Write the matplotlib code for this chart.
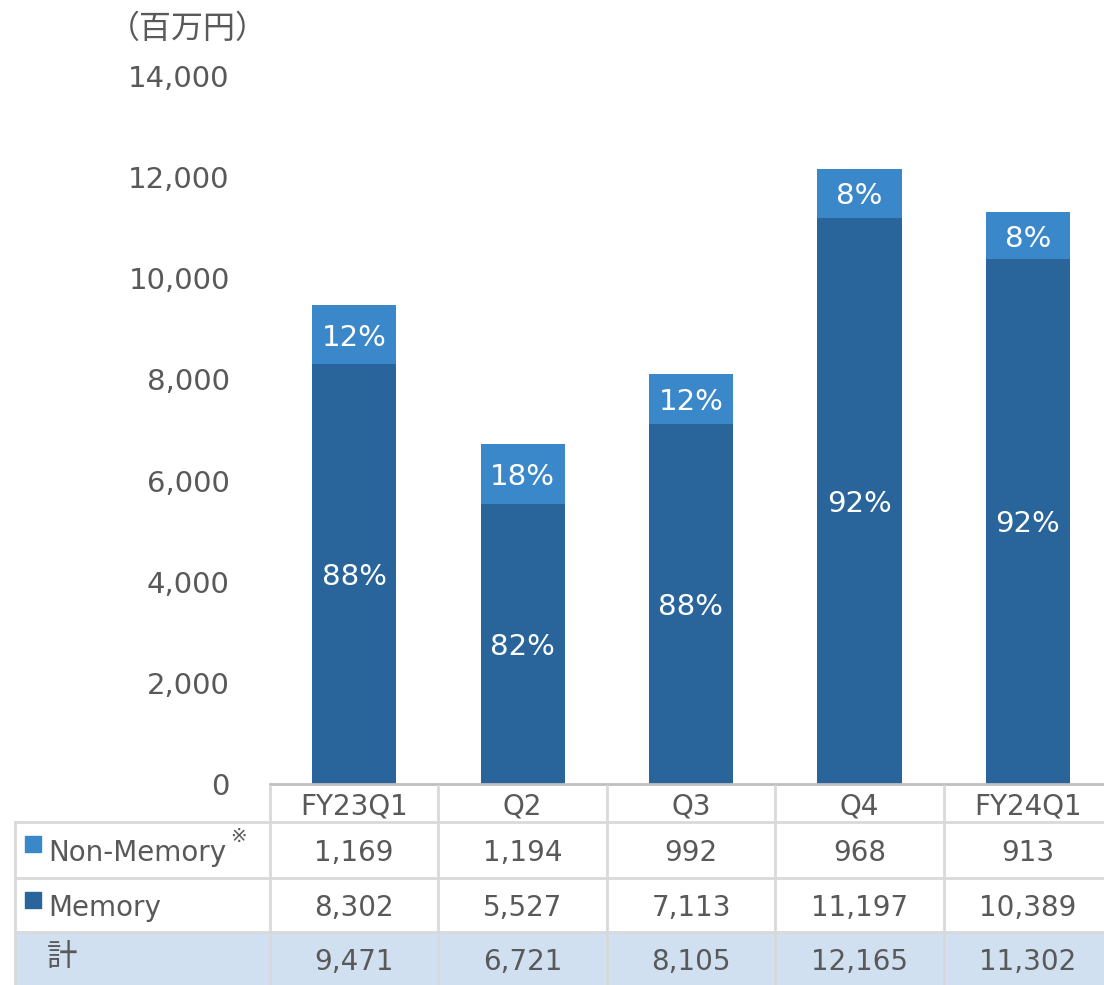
import matplotlib
matplotlib.use('Agg')
import matplotlib.pyplot as plt
import matplotlib.transforms as mtransforms
from matplotlib.lines import Line2D
from matplotlib.patches import Rectangle

plt.rcParams['font.family'] = ['DejaVu Sans', 'Noto Sans CJK JP']

# données
quarters = ['FY23Q1', 'Q2', 'Q3', 'Q4', 'FY24Q1']
non_memory = [1169, 1194, 992, 968, 913]
memory = [8302, 5527, 7113, 11197, 10389]
totals = [9471, 6721, 8105, 12165, 11302]

c_mem = '#29659A'
c_non = '#3A88C9'
c_txt = '#595959'
c_grid = '#D9D9D9'
c_total_bg = '#D1E0F0'

W, H = 1104, 985
fig = plt.figure(figsize=(W / 100, H / 100), dpi=100)


def fx(p):
    return p / W


def fy(p):
    return 1 - p / H


ax = fig.add_axes([fx(270), fy(784), fx(1112) - fx(270), fy(76) - fy(784)])

x = range(len(quarters))
ax.bar(x, memory, width=0.5, color=c_mem, zorder=2)
ax.bar(x, non_memory, width=0.5, bottom=memory, color=c_non, zorder=2)

# pourcentages dans les barres
for i in x:
    tot = memory[i] + non_memory[i]
    ax.text(i, memory[i] / 2, f'{round(memory[i] / tot * 100)}%',
            ha='center', va='center_baseline', color='white', fontsize=21)
    ax.text(i, memory[i] + non_memory[i] / 2, f'{round(non_memory[i] / tot * 100)}%',
            ha='center', va='center_baseline', color='white', fontsize=21)

ax.set_xlim(-0.5, 4.5)
ax.set_ylim(0, 14000)
ax.set_yticks(range(0, 14001, 2000))
ax.set_yticklabels([f'{v:,}' for v in range(0, 14001, 2000)])
ax.tick_params(axis='y', length=0, pad=29, labelsize=21, labelcolor=c_txt)
ax.set_xticks([])
for s in ['top', 'right', 'left']:
    ax.spines[s].set_visible(False)
ax.spines['bottom'].set_color('#BFBFBF')
ax.spines['bottom'].set_linewidth(2)

fig.text(fx(188), fy(29), '（百万円）', ha='center', va='center', fontsize=23, color=c_txt)

# tableau
trans = mtransforms.blended_transform_factory(ax.transData, fig.transFigure)

fig.add_artist(Rectangle((fx(15), fy(985)), fx(1104) - fx(15), fy(932) - fy(985),
                         transform=fig.transFigure, color=c_total_bg, zorder=0))

for yy in [822, 878, 932]:
    fig.add_artist(Line2D([fx(15), fx(1104)], [fy(yy), fy(yy)], transform=fig.transFigure,
                          color=c_grid, lw=2))
fig.add_artist(Line2D([fx(15), fx(15)], [fy(822), fy(985)], transform=fig.transFigure,
                      color=c_grid, lw=2))
for i in range(len(quarters) + 1):
    fig.add_artist(Line2D([i - 0.5, i - 0.5], [fy(786), fy(985)], transform=trans,
                          color=c_grid, lw=2))

fs = 20
for i, q in enumerate(quarters):
    fig.text(i, fy(804), q, transform=trans, ha='center', va='center_baseline', fontsize=fs, color=c_txt)
    fig.text(i, fy(850), f'{non_memory[i]:,}', transform=trans, ha='center', va='center_baseline',
             fontsize=fs, color=c_txt)
    fig.text(i, fy(905), f'{memory[i]:,}', transform=trans, ha='center', va='center_baseline',
             fontsize=fs, color=c_txt)
    fig.text(i, fy(959), f'{totals[i]:,}', transform=trans, ha='center', va='center_baseline',
             fontsize=fs, color=c_txt)

fig.add_artist(Rectangle((fx(25), fy(852)), fx(16), fy(836) - fy(852),
                         transform=fig.transFigure, color=c_non))
fig.add_artist(Rectangle((fx(25), fy(908)), fx(16), fy(892) - fy(908),
                         transform=fig.transFigure, color=c_mem))
fig.text(fx(48), fy(850), 'Non-Memory', ha='left', va='center_baseline', fontsize=fs, color=c_txt)
fig.text(fx(230), fy(837), '※', ha='left', va='center', fontsize=14, color=c_txt)
fig.text(fx(48), fy(905), 'Memory', ha='left', va='center_baseline', fontsize=fs, color=c_txt)
fig.text(fx(47), fy(958), '計', ha='left', va='center', fontsize=22, color=c_txt)

fig.savefig('out.png', dpi=100)
